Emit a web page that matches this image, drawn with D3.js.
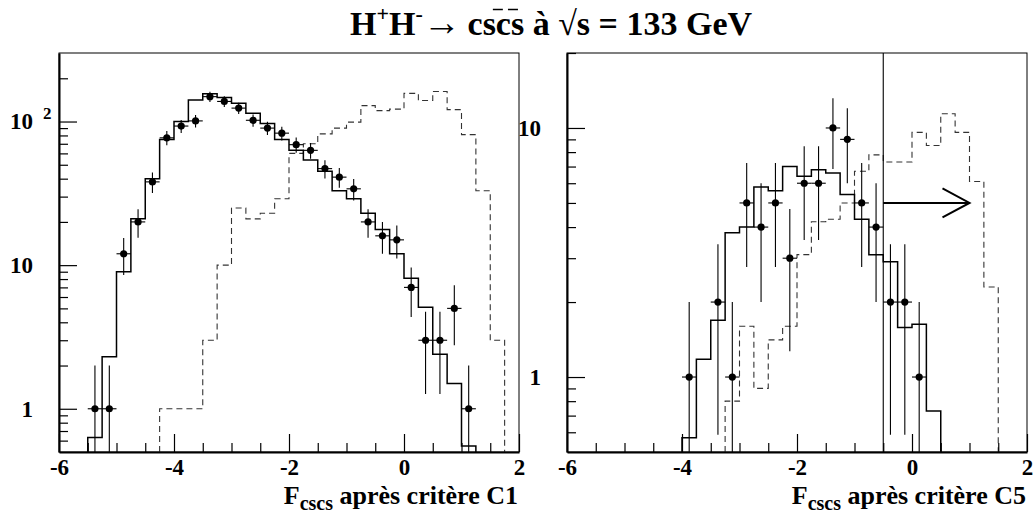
<!DOCTYPE html>
<html>
<head>
<meta charset="utf-8">
<script src="https://cdn.jsdelivr.net/npm/d3@7"></script>
<style>
  body { margin: 0; background: #fff; }
  svg { display: block; }
  text { font-family: "Liberation Serif", "Times New Roman", serif; font-weight: bold; fill: #000; }
</style>
</head>
<body>
<svg id="chart" width="1033" height="515"></svg>
<script>
const binWidth = 0.25;
const xMajorTicks = [-6, -4, -2, 0, 2];
const xMinorTicks = [-5.5, -5, -4.5, -3.5, -3, -2.5, -1.5, -1, -0.5, 0.5, 1, 1.5];

// panel C1
const c1BkgStart = -5.5;
const c1Bkg = [0.63, 2.3, 9, 21, 40, 75, 100, 141, 156, 147, 134, 114, 97, 75, 63, 54,
  45, 33, 29, 23, 17.7, 12, 8.1, 5.1, 2.4, 1.5, 0.55];
const c1SigStart = -4.25;
const c1Sig = [1, 1, 1, 3, 10, 25, 21, 23, 29, 60, 70, 82, 90, 99, 129, 119, 122, 157,
  140, 162, 121, 81, 33, 3];
const c1DataX = [-5.375, -5.125, -4.875, -4.625, -4.375, -4.125, -3.875, -3.625, -3.375,
  -3.125, -2.875, -2.625, -2.375, -2.125, -1.875, -1.625, -1.375, -1.125, -0.875, -0.625,
  -0.375, -0.125, 0.125, 0.375, 0.625, 0.875, 1.125];
const c1DataY = [1, 1, 12, 20, 38, 77, 93, 101, 149, 138, 124, 102, 90, 83, 69, 63, 47,
  41, 34, 20, 16, 15, 7, 3, 3, 5, 1];
const c1YDomain = [0.5, 300];
const c1YMajor = [1, 10, 100];
const c1YMinor = [0.6, 0.7, 0.8, 0.9, 2, 3, 4, 5, 6, 7, 8, 9, 20, 30, 40, 50, 60, 70, 80, 90, 200];

// panel C5
const c5BkgStart = -4;
const c5Bkg = [0.57, 1.18, 1.69, 3.8, 4.0, 5.8, 5.6, 7.0, 6.4, 6.8, 6.6, 5.4, 4.3, 3.1,
  2.9, 1.58, 1.63, 0.73];
const c5SigStart = -3.25;
const c5Sig = [0.8, 1.6, 0.9, 1.41, 1.6, 3.1, 4.2, 4.3, 5.0, 6.7, 7.8, 7.3, 7.3, 9.6,
  8.5, 11.4, 9.6, 6.1, 2.3];
const c5DataX = [-3.875, -3.375, -3.125, -2.875, -2.625, -2.375, -2.125, -1.875, -1.625,
  -1.375, -1.125, -0.875, -0.625, -0.375, -0.125, 0.125];
const c5DataY = [1, 2, 1, 5, 4, 5, 3, 6, 6, 10, 9, 5, 4, 2, 2, 1];
const c5YDomain = [0.5, 20];
const c5YMajor = [1, 10];
const c5YMinor = [0.6, 0.7, 0.8, 0.9, 2, 3, 4, 5, 6, 7, 8, 9, 20];
const c5Cut = -0.5;
const c5ArrowEnd = 1.0;
const c5ArrowLevel = 5;

const svg = d3.select("#chart");
svg.append("rect").attr("width", 1033).attr("height", 515).attr("fill", "#fff");

function drawPanel(p) {
  const top = 53, bottom = 452;
  const x = d3.scaleLinear().domain([-6, 2]).range([p.left, p.left + 460]);
  const y = d3.scaleLog().domain(p.yDomain).range([bottom, top]).clamp(true);
  const ymin = p.yDomain[0];

  const clipId = "clip" + p.id;
  svg.append("clipPath").attr("id", clipId)
    .append("rect").attr("x", x.range()[0]).attr("y", top)
    .attr("width", 460).attr("height", bottom - top);

  svg.append("rect")
    .attr("x", x.range()[0]).attr("y", top)
    .attr("width", 460).attr("height", bottom - top)
    .attr("fill", "none").attr("stroke", "#000").attr("stroke-width", 1);

  const g = svg.append("g").attr("clip-path", `url(#${clipId})`);

  const step = d3.line().curve(d3.curveStepAfter)
    .x((d) => x(d.x)).y((d) => y(d.v));
  const histPoints = (start, values) => [
    { x: start, v: ymin },
    ...values.map((v, i) => ({ x: start + i * binWidth, v })),
    { x: start + values.length * binWidth, v: ymin },
  ];

  g.append("path")
    .attr("d", step(histPoints(p.sigStart, p.sig)))
    .attr("fill", "none").attr("stroke", "#333").attr("stroke-width", 1.1)
    .attr("stroke-dasharray", "6,4");

  g.append("path")
    .attr("d", step(histPoints(p.bkgStart, p.bkg)))
    .attr("fill", "none").attr("stroke", "#000").attr("stroke-width", 1.5);

  const pts = p.dataX.map((cx, i) => ({ cx, v: p.dataY[i] }));
  const dots = g.append("g").selectAll("g").data(pts).join("g");
  dots.append("line")
    .attr("x1", (d) => x(d.cx)).attr("x2", (d) => x(d.cx))
    .attr("y1", (d) => y(Math.max(d.v - Math.sqrt(d.v), 0.01)))
    .attr("y2", (d) => y(d.v + Math.sqrt(d.v)))
    .attr("stroke", "#000").attr("stroke-width", 1.1);
  dots.append("line")
    .attr("x1", (d) => x(d.cx - binWidth / 2)).attr("x2", (d) => x(d.cx + binWidth / 2))
    .attr("y1", (d) => y(d.v)).attr("y2", (d) => y(d.v))
    .attr("stroke", "#000").attr("stroke-width", 1.1);
  dots.append("circle")
    .attr("cx", (d) => x(d.cx)).attr("cy", (d) => y(d.v)).attr("r", 3.6)
    .attr("fill", "#000");

  if (p.cut !== undefined) {
    g.append("line")
      .attr("x1", x(p.cut)).attr("x2", x(p.cut))
      .attr("y1", top).attr("y2", bottom)
      .attr("stroke", "#000").attr("stroke-width", 1.1);
    const ay = y(p.arrowLevel);
    const ax = x(p.arrowEnd);
    g.append("line")
      .attr("x1", x(p.cut)).attr("x2", ax).attr("y1", ay).attr("y2", ay)
      .attr("stroke", "#000").attr("stroke-width", 2);
    g.append("path")
      .attr("d", `M${ax - 27},${ay - 14.5}L${ax},${ay}L${ax - 27},${ay + 14.5}`)
      .attr("fill", "none").attr("stroke", "#000").attr("stroke-width", 2);
  }

  // y axis
  const yAxis = svg.append("g")
    .attr("transform", `translate(${x.range()[0]},0)`)
    .call(d3.axisLeft(y).tickValues(p.yMajor).tickSizeInner(-18).tickSizeOuter(0)
      .tickPadding(26).tickFormat((d) => (d === 100 ? "10" : String(d))));
  yAxis.selectAll("text").attr("font-size", 23);
  yAxis.select(".domain").attr("stroke-width", 2);
  yAxis.selectAll(".tick line").attr("stroke-width", 1.2);
  svg.append("g")
    .attr("transform", `translate(${x.range()[0]},0)`)
    .call(d3.axisLeft(y).tickValues(p.yMinor).tickSizeInner(-9).tickSizeOuter(0)
      .tickFormat(""))
    .call((s) => s.select(".domain").remove())
    .selectAll(".tick line").attr("stroke-width", 1.2);
  if (p.yMajor.includes(100)) {
    svg.append("text")
      .attr("x", x.range()[0] - 16).attr("y", y(100) - 3)
      .attr("font-size", 17).text("2");
  }

  // x axis
  const xAxis = svg.append("g")
    .attr("transform", `translate(0,${bottom})`)
    .call(d3.axisBottom(x).tickValues(xMajorTicks).tickSizeInner(-18).tickSizeOuter(0)
      .tickPadding(7).tickFormat((d) => String(d)));
  xAxis.selectAll("text").attr("font-size", 23);
  xAxis.select(".domain").attr("stroke-width", 2);
  xAxis.selectAll(".tick line").attr("stroke-width", 1.2);
  svg.append("g")
    .attr("transform", `translate(0,${bottom})`)
    .call(d3.axisBottom(x).tickValues(xMinorTicks).tickSizeInner(-9).tickSizeOuter(0)
      .tickFormat(""))
    .call((s) => s.select(".domain").remove())
    .selectAll(".tick line").attr("stroke-width", 1.2);

  const title = svg.append("text")
    .attr("x", x.range()[1] - 1).attr("y", 504)
    .attr("text-anchor", "end").attr("font-size", 26);
  title.append("tspan").text("F");
  title.append("tspan").attr("font-size", 20).attr("dy", 6).text("cscs");
  title.append("tspan").attr("dy", -6).text(" après critère " + p.label);
}

drawPanel({
  id: "c1", left: 59, yDomain: c1YDomain, yMajor: c1YMajor, yMinor: c1YMinor,
  bkgStart: c1BkgStart, bkg: c1Bkg, sigStart: c1SigStart, sig: c1Sig,
  dataX: c1DataX, dataY: c1DataY, label: "C1",
});
drawPanel({
  id: "c5", left: 567, yDomain: c5YDomain, yMajor: c5YMajor, yMinor: c5YMinor,
  bkgStart: c5BkgStart, bkg: c5Bkg, sigStart: c5SigStart, sig: c5Sig,
  dataX: c5DataX, dataY: c5DataY, label: "C5",
  cut: c5Cut, arrowEnd: c5ArrowEnd, arrowLevel: c5ArrowLevel,
});

// main title
const head = svg.append("text")
  .attr("x", 551).attr("y", 35).attr("text-anchor", "middle").attr("font-size", 34);
head.append("tspan").text("H");
head.append("tspan").attr("font-size", 22).attr("dy", -14).text("+");
head.append("tspan").attr("dy", 14).text("H");
head.append("tspan").attr("font-size", 22).attr("dy", -14).text("-");
head.append("tspan").attr("dy", 14).attr("font-size", 38).text("\u2192");
head.append("tspan").text("\u2009cscs à \u221As = 133 GeV");

const node = head.node();
[8, 9].forEach((i) => {
  const sx = node.getStartPositionOfChar(i).x;
  svg.append("line")
    .attr("x1", sx - 3).attr("x2", sx + 7)
    .attr("y1", 9.5).attr("y2", 9.5)
    .attr("stroke", "#000").attr("stroke-width", 1.5);
});
</script>
</body>
</html>
